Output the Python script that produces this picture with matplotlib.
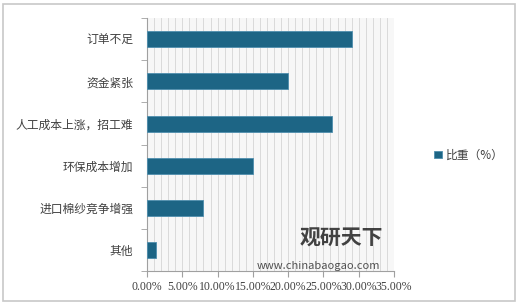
import matplotlib.pyplot as plt
from matplotlib.patches import Rectangle
from matplotlib.ticker import MultipleLocator, FuncFormatter, FixedLocator
import numpy as np

plt.rcParams['font.family'] = ['Noto Sans CJK SC', 'DejaVu Sans']

# 数据
categorias = ['订单不足', '资金紧张', '人工成本上涨，招工难', '环保成本增加', '进口棉纱竞争增强', '其他']
valores = [29.0, 20.0, 26.2, 15.0, 8.0, 1.3]
rotulo_serie = '比重（%）'

cor_barra = '#1d6585'

fig = plt.figure(figsize=(5.2, 3.07), dpi=100)
fig.patch.set_facecolor('white')

# moldura externa
fig.patches.append(Rectangle((0.006, 0.02), 0.985, 0.968, transform=fig.transFigure,
                             fill=False, edgecolor='#c8c8c8', linewidth=1.2))

ax = fig.add_axes([0.2827, 0.117, 0.475, 0.824])
ax.set_facecolor('#f7f7f7')

y = np.arange(len(categorias))
ax.barh(y, valores, height=0.38, color=cor_barra, edgecolor='#4f8fae',
        linewidth=0.6, label=rotulo_serie, zorder=3)

ax.set_xlim(0, 35)
ax.set_ylim(len(categorias) - 0.5, -0.5)

ax.xaxis.set_major_locator(MultipleLocator(5))
ax.xaxis.set_minor_locator(MultipleLocator(1))
ax.xaxis.set_major_formatter(FuncFormatter(lambda v, p: f'{v:.2f}%'))
ax.grid(True, which='both', axis='x', color='#dadada', linewidth=0.7, zorder=0)

ax.set_yticks(y)
ax.set_yticklabels(categorias)
ax.yaxis.set_minor_locator(FixedLocator(np.arange(-0.5, len(categorias), 1)))
ax.tick_params(axis='y', which='major', length=0, pad=10, labelsize=8.5, labelcolor='#404040')
ax.tick_params(axis='y', which='minor', length=4, color='#a0a0a0')
ax.tick_params(axis='x', which='major', length=4, color='#a0a0a0', labelsize=8.5, labelcolor='#404040')
ax.tick_params(axis='x', which='minor', length=0)
for lab in ax.get_xticklabels():
    lab.set_family(['Liberation Serif', 'Noto Sans CJK SC'])

for lado in ['top', 'right']:
    ax.spines[lado].set_visible(False)
for lado in ['left', 'bottom']:
    ax.spines[lado].set_color('#a0a0a0')
    ax.spines[lado].set_linewidth(0.8)

leg = fig.legend(loc='center left', bbox_to_anchor=(0.815, 0.495), frameon=False,
                 fontsize=8.5, handlelength=0.6, handleheight=0.6, handletextpad=0.4)
for t in leg.get_texts():
    t.set_color('#404040')

# marca d'água
fig.text(0.577, 0.225, '观研天下', fontsize=15, fontweight='bold', color='#222222',
         alpha=0.85, ha='left', va='center', zorder=5)
fig.text(0.612, 0.134, 'www.chinabaogao.com', fontsize=8, color='#333333',
         alpha=0.85, ha='center', va='center', zorder=5)

fig.savefig('out.png', dpi=100)
